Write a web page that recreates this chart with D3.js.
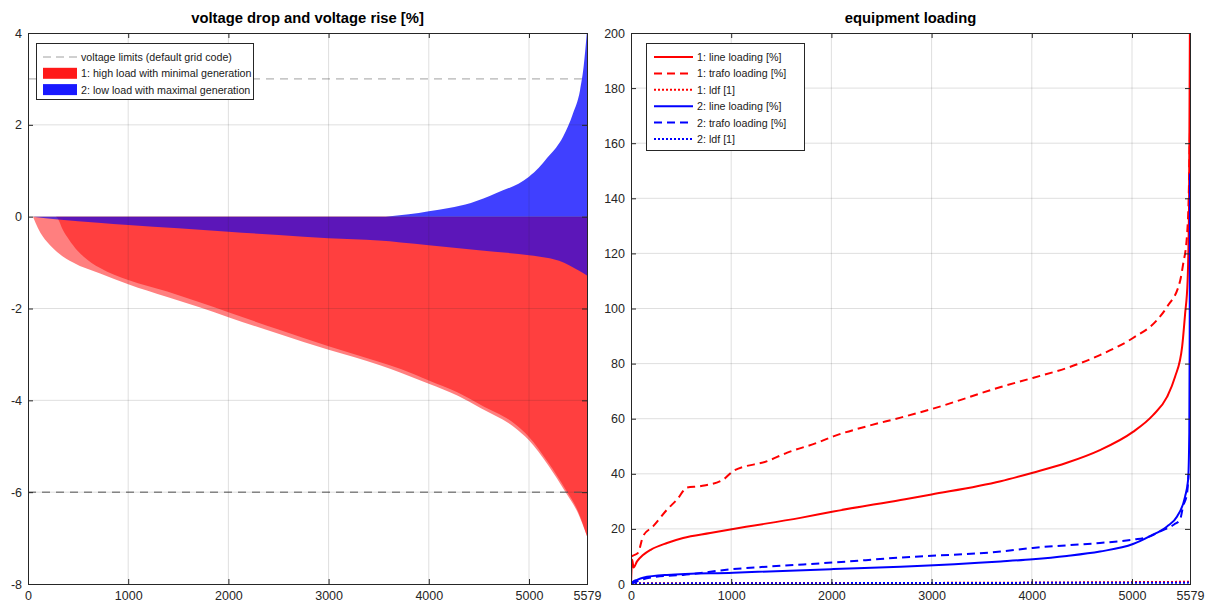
<!DOCTYPE html>
<html>
<head>
<meta charset="utf-8">
<title>voltage drop and equipment loading</title>
<script src="https://d3js.org/d3.v7.min.js"></script>
<style>
  body { margin: 0; background: #fff; }
  text { font-family: "Liberation Sans", Arial, sans-serif; }
</style>
</head>
<body>
<script>
// ---- data ----
var xTicks = [0, 1000, 2000, 3000, 4000, 5000, 5579];
var voltTicks = [-8, -6, -4, -2, 0, 2, 4];
var loadTicks = [0, 20, 40, 60, 80, 100, 120, 140, 160, 180, 200];
var voltLimits = [3, -6];

// scenario 1: high load with minimal generation (voltage drop, two layers)
var drop1Outer = [[50,0],[100,-0.25],[150,-0.44],[220,-0.62],[290,-0.77],[450,-1.0],[720,-1.24],[1000,-1.47],
  [1390,-1.75],[1720,-1.98],[2000,-2.19],[2500,-2.55],[3000,-2.9],[3520,-3.24],[3720,-3.4],[4000,-3.64],
  [4290,-3.9],[4520,-4.17],[4850,-4.58],[5000,-4.87],[5190,-5.41],[5370,-6.02],[5490,-6.46],[5579,-6.96]];
var drop1Inner = [[280,0],[300,-0.05],[340,-0.25],[390,-0.44],[470,-0.68],[550,-0.86],[720,-1.12],[1000,-1.38],
  [1390,-1.63],[1720,-1.87],[2000,-2.08],[2500,-2.46],[3000,-2.82],[3500,-3.16],[3720,-3.32],[4000,-3.57],
  [4290,-3.83],[4520,-4.1],[4850,-4.5],[5000,-4.8],[5190,-5.35],[5370,-5.96],[5490,-6.42],[5579,-6.96]];
// scenario 2: low load with maximal generation
var drop2 = [[50,0],[300,-0.06],[700,-0.13],[1000,-0.18],[1500,-0.25],[2000,-0.33],[2500,-0.4],[3000,-0.47],
  [3500,-0.52],[3720,-0.56],[4000,-0.62],[4500,-0.73],[5000,-0.84],[5190,-0.9],[5300,-0.96],[5400,-1.06],
  [5500,-1.18],[5579,-1.28]];
var rise2 = [[3570,0],[3800,0.05],[4000,0.12],[4200,0.19],[4420,0.3],[4670,0.51],[5000,0.87],[5100,1.07],
  [5180,1.28],[5270,1.5],[5340,1.74],[5440,2.25],[5510,2.76],[5545,3.26],[5579,4.05]];

// equipment loading
var line1 = [[0,0],[12,8.8],[25,6],[60,8.2],[120,10.5],[200,12.5],[360,14.9],[520,16.7],[790,18.5],[1020,20],
  [1690,24],[2020,26.3],[2690,30.5],[3000,32.5],[3690,37.3],[4010,40.4],[4350,44],[4680,48.6],[5010,55.2],
  [5210,61.3],[5350,67.9],[5430,75.2],[5500,86],[5530,98],[5555,110],[5570,140],[5579,210]];
var trafo1 = [[5,10],[20,10.3],[70,11.3],[120,17.3],[220,20.9],[360,27],[460,30.7],[560,35],[690,35.5],
  [920,37.9],[1020,41],[1360,44.6],[1560,47.7],[1860,51.3],[2020,53.6],[2360,57.3],[2690,60.4],[3000,63.5],
  [3690,71.5],[4010,74.8],[4350,78.4],[4680,83.1],[5010,89.3],[5250,95.8],[5350,100.6],[5480,110],[5510,116],
  [5550,127],[5565,139],[5575,157],[5579,165]];
var ldf1 = [[0,0.3],[3000,0.4],[5579,0.8]];
var line2 = [[0,0],[20,0.8],[60,1.5],[120,2.3],[360,3.3],[1020,4.1],[2020,5.4],[2690,6.3],[3690,8.2],
  [4010,9],[4350,10.2],[4680,11.8],[5010,14.5],[5180,17.4],[5350,20.9],[5450,24.5],[5530,31.7],[5560,37.8],
  [5572,55],[5576,90],[5579,149]];
var trafo2 = [[0,0],[100,1.5],[250,2.6],[520,3.3],[1020,5.4],[1360,6.3],[2020,7.8],[2690,9.6],[3690,11.8],
  [4010,13.1],[4680,14.9],[5010,16.1],[5180,17.3],[5280,19.1],[5420,21.6],[5480,23.4],[5510,28.2],[5550,33],
  [5565,40]];
var ldf2 = [[0,0.2],[5579,0.5]];

// ---- drawing ----
var width = 1214, height = 608;
var svg = d3.select("body").append("svg")
  .attr("width", width)
  .attr("height", height);

function frame(id, left, right, yDomain, yTicks, title) {
  var top = 33, bottom = 584;
  var x = d3.scaleLinear().domain([0, 5579]).range([left, right]);
  var y = d3.scaleLinear().domain(yDomain).range([bottom, top]);

  svg.append("clipPath").attr("id", id)
    .append("rect").attr("x", left).attr("y", top)
    .attr("width", right - left).attr("height", bottom - top);

  svg.append("text")
    .attr("x", (left + right) / 2).attr("y", 23)
    .attr("text-anchor", "middle")
    .style("font-size", "14.8px").style("font-weight", "bold")
    .attr("fill", "#000")
    .text(title);

  var plot = svg.append("g").attr("clip-path", "url(#" + id + ")");
  return { x: x, y: y, plot: plot, left: left, right: right, top: top, bottom: bottom, yTicks: yTicks };
}

function overlay(f) {
  var g = svg.append("g");
  // grid on top of the data
  g.selectAll(".gx").data(xTicks.slice(1, -1)).enter().append("line")
    .attr("x1", f.x).attr("x2", f.x).attr("y1", f.top).attr("y2", f.bottom)
    .attr("stroke", "#262626").attr("stroke-opacity", 0.15);
  g.selectAll(".gy").data(f.yTicks.slice(1, -1)).enter().append("line")
    .attr("y1", f.y).attr("y2", f.y).attr("x1", f.left).attr("x2", f.right)
    .attr("stroke", "#262626").attr("stroke-opacity", 0.15);

  var fmt = function(d) { return String(d); };
  function style(a) {
    a.select(".domain").remove();
    a.selectAll("line").attr("stroke", "#262626");
    a.selectAll("text").attr("fill", "#262626").style("font-size", "12.5px")
      .style("font-family", "'Liberation Sans', Arial, sans-serif");
  }
  g.append("g").attr("transform", "translate(0," + f.bottom + ")")
    .call(d3.axisBottom(f.x).tickValues(xTicks).tickSizeInner(-5).tickSizeOuter(0).tickPadding(7).tickFormat(fmt))
    .call(style);
  g.append("g").attr("transform", "translate(0," + f.top + ")")
    .call(d3.axisTop(f.x).tickValues(xTicks).tickSizeInner(-5).tickSizeOuter(0).tickFormat(""))
    .call(style);
  g.append("g").attr("transform", "translate(" + f.left + ",0)")
    .call(d3.axisLeft(f.y).tickValues(f.yTicks).tickSizeInner(-5).tickSizeOuter(0).tickPadding(6).tickFormat(fmt))
    .call(style);
  g.append("g").attr("transform", "translate(" + f.right + ",0)")
    .call(d3.axisRight(f.y).tickValues(f.yTicks).tickSizeInner(-5).tickSizeOuter(0).tickFormat(""))
    .call(style);

  g.append("rect")
    .attr("x", f.left + 0.5).attr("y", f.top + 0.5)
    .attr("width", f.right - f.left).attr("height", f.bottom - f.top)
    .attr("fill", "none").attr("stroke", "#262626");
}

// ---- left: voltage drop and voltage rise ----
var fv = frame("clipV", 28, 587, [-8, 4], voltTicks, "voltage drop and voltage rise [%]");

var area = d3.area().curve(d3.curveMonotoneX)
  .x(function(d) { return fv.x(d[0]); })
  .y0(fv.y(0))
  .y1(function(d) { return fv.y(d[1]); });

fv.plot.append("path").datum(drop1Outer).attr("d", area)
  .attr("fill", "#ff0000").attr("fill-opacity", 0.5);
fv.plot.append("path").datum(drop1Inner).attr("d", area)
  .attr("fill", "#ff0000").attr("fill-opacity", 0.5);
fv.plot.append("path").datum(drop2).attr("d", area)
  .attr("fill", "#0000ff").attr("fill-opacity", 0.64);
fv.plot.append("path").datum(rise2).attr("d", area)
  .attr("fill", "#0000ff").attr("fill-opacity", 0.75);

var limitColors = ["#a0a0a0", "#555555"];
fv.plot.selectAll(".limit").data(voltLimits).enter().append("line")
  .attr("x1", fv.left).attr("x2", fv.right)
  .attr("y1", fv.y).attr("y2", fv.y)
  .attr("stroke", function(d, i) { return limitColors[i]; })
  .attr("stroke-dasharray", "8,6");

overlay(fv);

// left legend
var lg = svg.append("g");
lg.append("rect").attr("x", 36.5).attr("y", 43.5).attr("width", 217).attr("height", 56)
  .attr("fill", "#fff").attr("stroke", "#262626");
var vLegend = [
  { label: "voltage limits (default grid code)", kind: "dash", color: "#a0a0a0" },
  { label: "1: high load with minimal generation", kind: "patch", color: "#ff0000" },
  { label: "2: low load with maximal generation", kind: "patch", color: "#0000ff" }
];
vLegend.forEach(function(d, i) {
  var yy = 57 + i * 16.3;
  if (d.kind === "dash") {
    lg.append("line").attr("x1", 43).attr("x2", 77).attr("y1", yy).attr("y2", yy)
      .attr("stroke", d.color).attr("stroke-dasharray", "8,5");
  } else {
    lg.append("rect").attr("x", 43).attr("y", yy - 5.5).attr("width", 34).attr("height", 11)
      .attr("fill", d.color).attr("fill-opacity", 0.9);
  }
  lg.append("text").attr("x", 81).attr("y", yy + 4)
    .style("font-size", "10.7px").attr("fill", "#1a1a1a").text(d.label);
});

// ---- right: equipment loading ----
var fl = frame("clipL", 631, 1190, [0, 200], loadTicks, "equipment loading");

var line = d3.line().curve(d3.curveMonotoneX)
  .x(function(d) { return fl.x(d[0]); })
  .y(function(d) { return fl.y(d[1]); });

var loadSeries = [
  { label: "1: line loading [%]", data: line1, color: "#ff0000", dash: null },
  { label: "1: trafo loading [%]", data: trafo1, color: "#ff0000", dash: "8,5" },
  { label: "1: ldf [1]", data: ldf1, color: "#ff0000", dash: "2,2" },
  { label: "2: line loading [%]", data: line2, color: "#0000ff", dash: null },
  { label: "2: trafo loading [%]", data: trafo2, color: "#0000ff", dash: "8,5" },
  { label: "2: ldf [1]", data: ldf2, color: "#0000ff", dash: "2,2" }
];

fl.plot.selectAll(".series").data(loadSeries).enter().append("path")
  .attr("d", function(d) { return line(d.data); })
  .attr("fill", "none")
  .attr("stroke", function(d) { return d.color; })
  .attr("stroke-width", 2)
  .attr("stroke-dasharray", function(d) { return d.dash; });

overlay(fl);

var rg = svg.append("g");
rg.append("rect").attr("x", 646.5).attr("y", 43.5).attr("width", 158).attr("height", 107)
  .attr("fill", "#fff").attr("stroke", "#262626");
loadSeries.forEach(function(d, i) {
  var yy = 57 + i * 16.4;
  rg.append("line").attr("x1", 654).attr("x2", 693).attr("y1", yy).attr("y2", yy)
    .attr("stroke", d.color).attr("stroke-width", 2).attr("stroke-dasharray", d.dash);
  rg.append("text").attr("x", 697).attr("y", yy + 4)
    .style("font-size", "10.7px").attr("fill", "#1a1a1a").text(d.label);
});
</script>
</body>
</html>
